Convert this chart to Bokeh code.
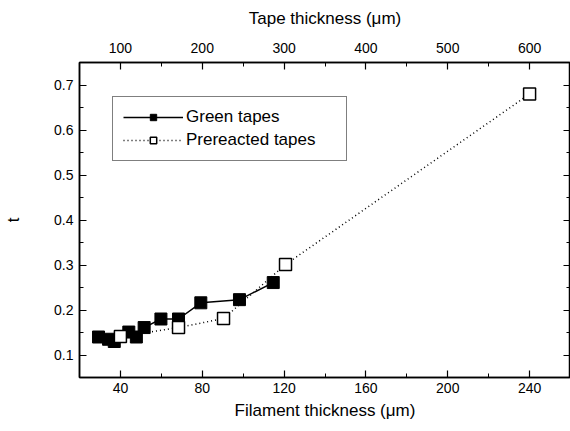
from bokeh.plotting import figure
from bokeh.models import (Range1d, LinearAxis, FixedTicker, Legend, LegendItem,
                          CustomJSTickFormatter)
from bokeh.embed import file_html
from bokeh.resources import INLINE

# Data
green_x = [29.3, 34.2, 37.0, 44.1, 47.8, 51.6, 59.8, 68.4, 79.3, 98.2, 114.7]
green_t = [0.140, 0.135, 0.130, 0.151, 0.140, 0.161, 0.180, 0.180, 0.216, 0.223, 0.261]
pre_x = [40.0, 68.4, 90.4, 120.7, 240.0]
pre_t = [0.141, 0.161, 0.181, 0.301, 0.680]

x_ticks = [40, 80, 120, 160, 200, 240]
top_ticks = [100, 200, 300, 400, 500, 600]
y_ticks = [0.1, 0.2, 0.3, 0.4, 0.5, 0.6, 0.7]

FONT = "Liberation Sans"

p = figure(width=570, height=431, output_backend="svg", toolbar_location=None,
           x_range=Range1d(20, 260), y_range=Range1d(0.05, 0.75),
           x_axis_label="Filament thickness (\u03bcm)", y_axis_label="t",
           min_border_left=79, min_border_right=0, min_border_top=62,
           min_border_bottom=54)
p.extra_x_ranges = {"tape": Range1d(50, 650)}

p.xaxis.ticker = FixedTicker(ticks=x_ticks, minor_ticks=[20 + 20 * i for i in range(13)])
p.yaxis.ticker = FixedTicker(ticks=y_ticks, minor_ticks=[0.05 + 0.05 * i for i in range(15)])

top = LinearAxis(x_range_name="tape", axis_label="Tape thickness (\u03bcm)",
                 ticker=FixedTicker(ticks=top_ticks, minor_ticks=[50 + 50 * i for i in range(13)]))
p.add_layout(top, "above")
right = LinearAxis(ticker=FixedTicker(ticks=y_ticks, minor_ticks=[0.05 + 0.05 * i for i in range(15)]),
                   formatter=CustomJSTickFormatter(code="return ''"),
                   major_label_standoff=0)
p.add_layout(right, "right")

for ax in p.axis:
    ax.axis_line_width = 1.5
    ax.axis_line_color = "black"
    ax.major_tick_in = 7
    ax.major_tick_out = 0
    ax.minor_tick_in = 4
    ax.minor_tick_out = 0
    ax.major_tick_line_color = "black"
    ax.minor_tick_line_color = "black"
    ax.major_tick_line_width = 1.2
    ax.major_label_text_font = FONT
    ax.major_label_text_font_size = "14px"
    ax.major_label_text_color = "black"
    ax.axis_label_text_font = FONT
    ax.axis_label_text_font_size = "17px"
    ax.axis_label_text_font_style = "normal"
    ax.axis_label_text_color = "black"

p.xaxis[0].major_label_standoff = 7
p.xaxis[0].axis_label_standoff = 9
top.major_label_standoff = 10
top.axis_label_standoff = 12
p.yaxis[0].major_label_standoff = 6
p.yaxis[0].axis_label_standoff = 28

p.xgrid.visible = False
p.ygrid.visible = False
p.outline_line_color = "black"
p.outline_line_width = 1.5

gl = p.line(green_x, green_t, line_color="black", line_width=1.5)
gs = p.scatter(green_x, green_t, marker="square", size=12, fill_color="black",
               line_color="black")
pl = p.line(pre_x, pre_t, line_color="black", line_width=1.5, line_dash="1 3")
ps = p.scatter(pre_x, pre_t, marker="square", size=12, fill_color="white",
               line_color="black", line_width=1.5)

legend = Legend(items=[LegendItem(label="Green tapes", renderers=[gl, gs]),
                       LegendItem(label="Prereacted tapes", renderers=[pl, ps])],
                location=(33, 216), margin=0, padding=10, spacing=3,
                glyph_width=60, glyph_height=16, label_height=16, label_width=150,
                label_standoff=3, label_text_font=FONT, label_text_font_size="17px",
                label_text_color="black", border_line_color="black",
                border_line_width=1, background_fill_alpha=1)
p.add_layout(legend)

open("out.html", "w").write(file_html(p, INLINE))
